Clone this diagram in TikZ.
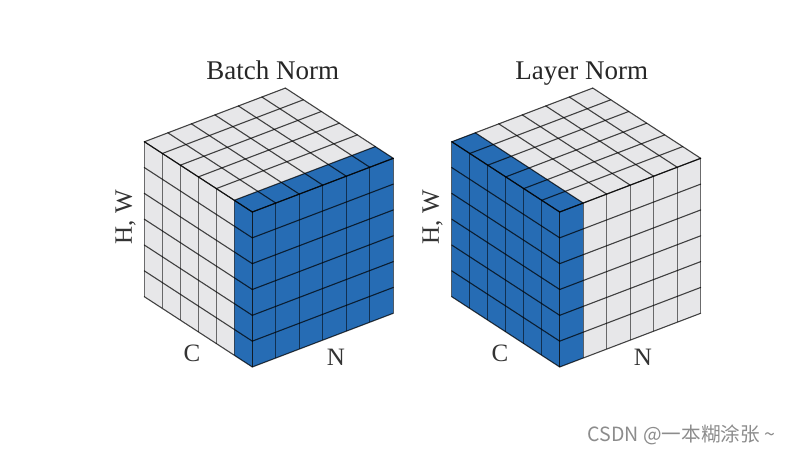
\documentclass[tikz,border=0pt]{standalone}
\usepackage{fontspec}
\setmainfont{Liberation Serif}
\newfontfamily\cjkfont{Noto Sans CJK SC}
\definecolor{cubeblue}{RGB}{38,108,180}
\definecolor{cubegrey}{RGB}{231,231,233}
\tikzset{
  gridline/.style={draw=black,opacity=0.72,line width=1.1pt,line cap=round},
  riserline/.style={draw=black,opacity=0.55,line width=1.3pt},
  axislabel/.style={font=\fontsize{25}{25}\selectfont,text=black!80},
  titlelabel/.style={font=\fontsize{27}{27}\selectfont,text=black!85,anchor=base}
}
% F = front top corner (252.3,212), one cell: 18,11.7 to the left, 23.5,8.95 to the right, 25.83 down
\newcommand{\cubegrid}{
  \foreach \i in {0,...,6} {
    % top face
    \draw[gridline] ({252.3-18*\i},{212-11.7*\i}) -- ({393.3-18*\i},{158.3-11.7*\i});
    \draw[gridline] ({252.3+23.5*\i},{212-8.95*\i}) -- ({144.3+23.5*\i},{141.7-8.95*\i});
    % left face
    \draw[riserline] ({252.3-18*\i},{212-11.7*\i}) -- ({252.3-18*\i},{367-11.7*\i});
    \draw[gridline] (252.3,{212+25.83*\i}) -- (144.3,{141.7+25.83*\i});
    % right face
    \draw[riserline] ({252.3+23.5*\i},{212-8.95*\i}) -- ({252.3+23.5*\i},{367-8.95*\i});
    \draw[gridline] (252.3,{212+25.83*\i}) -- (393.3,{158.3+25.83*\i});
  }
}
\begin{document}
\begin{tikzpicture}[x=1pt,y=-1pt]
  \useasboundingbox (0,0) rectangle (790,454);
  % batch norm cube
  \fill[cubegrey] (144.3,141.7) -- (285.3,88) -- (393.3,158.3) -- (252.3,212) -- cycle;
  \fill[cubegrey] (144.3,141.7) -- (252.3,212) -- (252.3,367) -- (144.3,296.7) -- cycle;
  \fill[cubeblue] (252.3,212) -- (393.3,158.3) -- (393.3,313.3) -- (252.3,367) -- cycle;
  \fill[cubeblue] (234.3,200.3) -- (375.3,146.6) -- (393.3,158.3) -- (252.3,212) -- cycle;
  \fill[cubeblue] (234.3,200.3) -- (252.3,212) -- (252.3,367) -- (234.3,355.3) -- cycle;
  \cubegrid
  % layer norm cube
  \begin{scope}[xshift=307.4pt]
    \fill[cubegrey] (144.3,141.7) -- (285.3,88) -- (393.3,158.3) -- (252.3,212) -- cycle;
    \fill[cubegrey] (252.3,212) -- (393.3,158.3) -- (393.3,313.3) -- (252.3,367) -- cycle;
    \fill[cubeblue] (144.3,141.7) -- (252.3,212) -- (252.3,367) -- (144.3,296.7) -- cycle;
    \fill[cubeblue] (144.3,141.7) -- (167.8,132.7) -- (275.8,203) -- (252.3,212) -- cycle;
    \fill[cubeblue] (252.3,212) -- (275.8,203) -- (275.8,358) -- (252.3,367) -- cycle;
    \cubegrid
  \end{scope}
  % labels
  \node[titlelabel] (batchtitle) at (272.7,79.3) {Batch Norm};
  \node[titlelabel] (layertitle) at (581.7,79.3) {Layer Norm};
  \node[axislabel,rotate=90] (hwbatch) at (125.5,217) {H, W};
  \node[axislabel,rotate=90] (hwlayer) at (432.5,217) {H, W};
  \node[axislabel] (cbatch) at (192,353) {C};
  \node[axislabel] (nbatch) at (336,357) {N};
  \node[axislabel] (clayer) at (500,353) {C};
  \node[axislabel] (nlayer) at (643,357) {N};
  \node[font=\cjkfont\fontsize{19.6}{20}\selectfont,text=black!45] (mark) at (681.5,435) {CSDN @一本糊涂张 \textasciitilde};
\end{tikzpicture}
\end{document}
